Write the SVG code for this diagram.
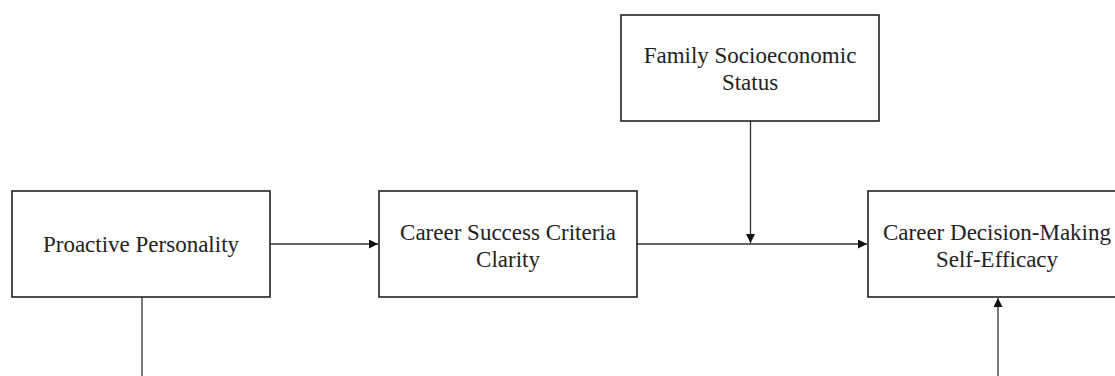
<svg xmlns="http://www.w3.org/2000/svg" width="1115" height="376" viewBox="0 0 1115 376">
<style>
.box{fill:#fff;stroke:#222;stroke-width:1.6}
.lbl{font-family:"Liberation Serif","Times New Roman",serif;font-size:23px;fill:#222;text-anchor:middle}
.ln{stroke:#333;stroke-width:1.3;fill:none}
</style>
<defs>
<marker id="arr" viewBox="0 0 10 10" refX="10" refY="5" markerWidth="9" markerHeight="9" markerUnits="userSpaceOnUse" orient="auto">
<path d="M0,0 L10,5 L0,10 z" fill="#111"/>
</marker>
</defs>
<rect width="1115" height="376" fill="#fff"/>
<g id="connectors">
<line class="ln" x1="270" y1="244" x2="378" y2="244" marker-end="url(#arr)"/>
<line class="ln" x1="637" y1="244" x2="867" y2="244" marker-end="url(#arr)"/>
<line class="ln" x1="750.5" y1="121" x2="750.5" y2="243" marker-end="url(#arr)"/>
<line class="ln" x1="998" y1="376" x2="998" y2="298" marker-end="url(#arr)"/>
<line class="ln" x1="142" y1="297" x2="142" y2="376"/>
</g>
<g id="proactive">
<rect class="box" x="12" y="191" width="258" height="106"/>
<text class="lbl" x="141" y="252">Proactive Personality</text>
</g>
<g id="clarity">
<rect class="box" x="379" y="191" width="258" height="106"/>
<text class="lbl" x="508" y="240">Career Success Criteria</text>
<text class="lbl" x="508" y="267">Clarity</text>
</g>
<g id="ses">
<rect class="box" x="621" y="15" width="258" height="106"/>
<text class="lbl" x="750" y="63">Family Socioeconomic</text>
<text class="lbl" x="750" y="90">Status</text>
</g>
<g id="cdmse">
<rect class="box" x="868" y="191" width="258" height="106"/>
<text class="lbl" x="997" y="240">Career Decision-Making</text>
<text class="lbl" x="997" y="267">Self-Efficacy</text>
</g>
</svg>
